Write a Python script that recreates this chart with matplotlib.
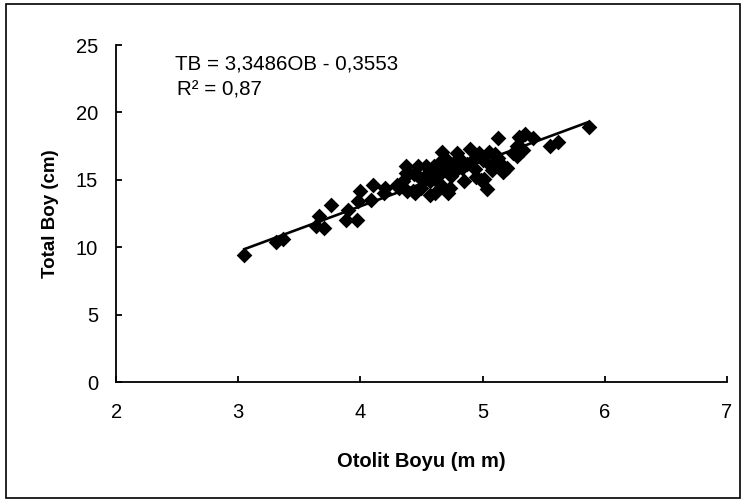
import matplotlib.pyplot as plt
from matplotlib.patches import Rectangle
import numpy as np

plt.rcParams['font.family'] = ['Liberation Sans', 'DejaVu Sans']

# Otolit boyu (mm) ve total boy (cm)
otolit_boyu = [3.05, 3.31, 3.37, 3.64, 3.66, 3.70, 3.76, 3.88, 3.90, 3.97,
               3.98, 4.00, 4.09, 4.10, 4.19, 4.20, 4.30, 4.32, 4.35, 4.37,
               4.37, 4.38, 4.40, 4.43, 4.44, 4.45, 4.47, 4.48, 4.50, 4.52,
               4.54, 4.55, 4.57, 4.57, 4.58, 4.60, 4.61, 4.63, 4.65, 4.65,
               4.66, 4.67, 4.69, 4.70, 4.71, 4.72, 4.73, 4.74, 4.76, 4.77,
               4.78, 4.79, 4.81, 4.83, 4.85, 4.87, 4.90, 4.92, 4.94, 4.95,
               4.97, 4.99, 5.00, 5.01, 5.04, 5.05, 5.07, 5.08, 5.10, 5.12,
               5.13, 5.13, 5.17, 5.17, 5.20, 5.25, 5.28, 5.28, 5.30, 5.31,
               5.33, 5.35, 5.41, 5.55, 5.62, 5.87]
total_boy = [9.4, 10.4, 10.6, 11.6, 12.3, 11.4, 13.1, 12.0, 12.8, 12.0,
             13.4, 14.2, 13.5, 14.6, 14.0, 14.4, 14.6, 14.4, 14.9, 16.0,
             15.5, 14.2, 15.5, 14.2, 15.4, 14.0, 16.0, 15.2, 14.4, 15.0,
             16.0, 15.5, 14.9, 13.9, 15.5, 16.0, 14.0, 15.2, 15.6, 16.3,
             14.6, 17.1, 16.6, 15.9, 16.2, 14.0, 14.4, 15.3, 15.7, 15.6,
             16.4, 17.0, 16.6, 15.9, 14.9, 16.2, 17.3, 16.5, 15.8, 15.2,
             17.0, 15.0, 16.5, 15.1, 14.3, 17.1, 16.0, 15.7, 16.9, 16.4,
             18.1, 16.6, 15.6, 16.0, 15.9, 17.0, 16.8, 17.5, 18.2, 18.1,
             17.2, 18.4, 18.1, 17.5, 17.8, 18.9]

egim = 3.3486
sabit = -0.3553

fig = plt.figure(figsize=(7.44, 5.01), dpi=100)
ax = fig.add_axes([0.156, 0.2375, 0.821, 0.6725])

ax.scatter(otolit_boyu, total_boy, marker='D', s=64, color='black', zorder=3, linewidths=0)

xl = np.array([min(otolit_boyu), max(otolit_boyu)])
ax.plot(xl, egim * xl + sabit, color='black', lw=1.9, zorder=2)

ax.set_xlim(2, 7)
ax.set_ylim(0, 25)
ax.set_xticks([2, 3, 4, 5, 6, 7])
ax.set_yticks([0, 5, 10, 15, 20, 25])
ax.spines['top'].set_visible(False)
ax.spines['right'].set_visible(False)
for s in ['left', 'bottom']:
    ax.spines[s].set_linewidth(1.3)
ax.tick_params(direction='in', length=4, width=1.3, labelsize=14.5)
ax.tick_params(axis='x', pad=15)
ax.tick_params(axis='y', pad=13)

ax.set_xlabel('Otolit Boyu (m m)', fontsize=14.5, fontweight='bold', labelpad=22)
ax.set_ylabel('Total Boy (cm)', fontsize=13.5, fontweight='bold', labelpad=12)

ax.text(2.48, 23.6, 'TB = 3,3486OB - 0,3553', fontsize=14.8, va='center')
ax.text(2.50, 21.7, 'R\u00b2 = 0,87', fontsize=14.8, va='center')

fig.patches.append(Rectangle((0.008, 0.006), 0.986, 0.986, transform=fig.transFigure,
                             fill=False, edgecolor='black', lw=1.2))

fig.savefig('out.png', dpi=100)
